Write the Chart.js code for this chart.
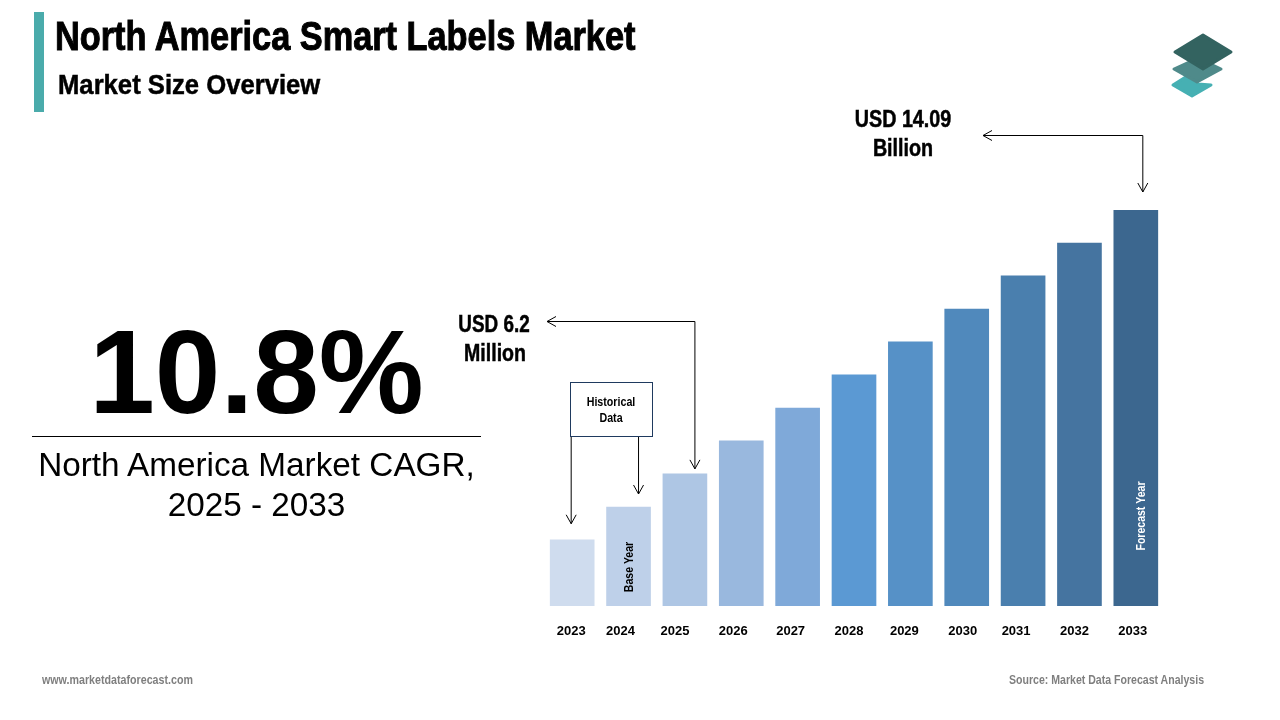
<!DOCTYPE html>
<html>
<head>
<meta charset="utf-8">
<title>North America Smart Labels Market</title>
<script src="https://cdn.jsdelivr.net/npm/chart.js@4"></script>
<style>
html, body { margin:0; padding:0; background:#fff; }
#page { position:relative; width:1280px; height:720px; overflow:hidden; font-family:"Liberation Sans",Arial,sans-serif; color:#000; }
#page canvas { position:absolute; left:0; top:0; }
.t { position:absolute; white-space:nowrap; }
.narrow { font-weight:700; transform-origin:left top; }
#accent { position:absolute; left:34px; top:12px; width:10px; height:100px; background:#4aabab; }
#title { left:55px; top:14px; font-size:40px; line-height:44px; -webkit-text-stroke:1px #000; transform:scaleX(0.858); }
#subtitle { left:58px; top:68px; font-size:28px; line-height:34px; -webkit-text-stroke:0.5px #000; transform:scaleX(0.916); }
#cagr { left:32px; width:449px; top:308px; text-align:center; font-size:118px; line-height:128px; font-weight:700; }
#rule { position:absolute; left:32px; width:449px; top:436px; height:1px; background:#000; }
#cagrText { left:32px; width:449px; top:445px; text-align:center; font-size:33.3px; line-height:40px; }
#site { left:42px; top:673px; font-size:12px; line-height:14px; color:#7f7f7f; transform:scaleX(0.89); }
#source { left:1009px; top:673px; font-size:12px; line-height:14px; color:#7f7f7f; transform:scaleX(0.88); }
#logo { position:absolute; left:1165px; top:28px; }
#logo polygon { stroke-width:3; stroke-linejoin:round; }
</style>
</head>
<body>
<div id="page">
<canvas id="chart" width="1280" height="720"></canvas>
<div id="accent"></div>
<div class="t narrow" id="title">North America Smart Labels Market</div>
<div class="t narrow" id="subtitle">Market Size Overview</div>
<div class="t" id="cagr">10.8%</div>
<div id="rule"></div>
<div class="t" id="cagrText">North America Market CAGR,<br>2025 - 2033</div>
<div class="t narrow" id="site">www.marketdataforecast.com</div>
<div class="t narrow" id="source">Source: Market Data Forecast Analysis</div>
<svg id="logo" width="75" height="75" viewBox="0 0 75 75">
  <polygon points="8,57 27,45 33,56 46,57 27,68" fill="#46b0b3" stroke="#46b0b3"/>
  <polygon points="33,30 56,41 32,54 9,41" fill="#4f8a8a" stroke="#4f8a8a"/>
  <polygon points="38,7 66,24 38,41 10,24" fill="#336360" stroke="#336360"/>
</svg>
</div>

<script>
// data
const years = ["2023","2024","2025","2026","2027","2028","2029","2030","2031","2032","2033"];
const marketSize = [4.23,5.21,6.2,7.19,8.17,9.16,10.15,11.13,12.12,13.1,14.09];
const barColors = ["#cfdcee","#bed0e9","#aec6e4","#99b8de","#7fa9d9","#5b99d3","#5691c7","#5089bc","#4a7fae","#4574a0","#3c678f"];

// the year labels sit a little left of their bars in the original
const labelNudge = [-1,-8,-10,-8,-7,-5,-6,-4,-7,-5,-3];

const font = (size) => 'bold ' + size + 'px "Liberation Sans",sans-serif';

function arrowHead(ctx, x, y, dir) {
  const s = 9, w = 5;
  ctx.beginPath();
  if (dir === 'down') {
    ctx.moveTo(x - w, y - s); ctx.lineTo(x, y); ctx.lineTo(x + w, y - s);
  } else {
    ctx.moveTo(x + s, y - w); ctx.lineTo(x, y); ctx.lineTo(x + s, y + w);
  }
  ctx.stroke();
}

function line(ctx, pts) {
  ctx.beginPath();
  pts.forEach((p, i) => i ? ctx.lineTo(p[0], p[1]) : ctx.moveTo(p[0], p[1]));
  ctx.stroke();
}

// centred text, squeezed sideways to look like the condensed face of the original
function narrowText(ctx, text, x, y, size, squeeze, heavy) {
  ctx.save();
  ctx.translate(x, y);
  ctx.scale(squeeze, 1);
  ctx.font = font(size);
  ctx.textAlign = 'center';
  ctx.textBaseline = 'middle';
  ctx.fillText(text, 0, 0);
  if (heavy) {
    ctx.strokeStyle = ctx.fillStyle;
    ctx.lineWidth = heavy;
    ctx.strokeText(text, 0, 0);
  }
  ctx.restore();
}

function vertText(ctx, text, x, y, color, size, squeeze) {
  ctx.save();
  ctx.translate(x, y);
  ctx.rotate(-Math.PI / 2);
  ctx.fillStyle = color;
  narrowText(ctx, text, 0, 0, size, squeeze);
  ctx.restore();
}

const nudgeLabels = {
  id: 'nudgeLabels',
  afterUpdate(chart) {
    const items = chart.scales.x.getLabelItems(chart.chartArea);
    items.forEach((it, i) => { it.options.translation[0] += labelNudge[i]; });
  }
};

const notes = {
  id: 'notes',
  afterDatasetsDraw(chart) {
    const ctx = chart.ctx;
    const xs = chart.scales.x, ys = chart.scales.y;
    const barX = (i) => xs.getPixelForTick(i);
    const barY = (i) => ys.getPixelForValue(marketSize[i]);

    ctx.save();
    ctx.strokeStyle = '#000';
    ctx.lineWidth = 1;
    ctx.fillStyle = '#000';

    // 2033 arrow
    const x33 = barX(10) + 7, tip33 = barY(10) - 18;
    line(ctx, [[983, 135.5], [x33, 135.5], [x33, tip33]]);
    arrowHead(ctx, 983, 135.5, 'left');
    arrowHead(ctx, x33, tip33, 'down');

    // 2025 arrow
    const x25 = barX(2) + 10, tip25 = barY(2) - 5;
    line(ctx, [[547, 321.5], [x25, 321.5], [x25, tip25]]);
    arrowHead(ctx, 547, 321.5, 'left');
    arrowHead(ctx, x25, tip25, 'down');

    // historical data box
    ctx.strokeStyle = '#1f3a5f';
    ctx.strokeRect(570.5, 382.5, 82, 54);
    ctx.strokeStyle = '#000';
    const x23 = barX(0) - 1, tip23 = barY(0) - 16;
    const x24 = barX(1) + 10, tip24 = barY(1) - 13;
    line(ctx, [[x23, 437], [x23, tip23]]);
    arrowHead(ctx, x23, tip23, 'down');
    line(ctx, [[x24, 437], [x24, tip24]]);
    arrowHead(ctx, x24, tip24, 'down');

    narrowText(ctx, 'Historical', 611, 403, 12, 0.89);
    narrowText(ctx, 'Data', 611, 419, 12, 0.89);

    narrowText(ctx, 'USD 14.09', 903, 121, 23, 0.857, 0.5);
    narrowText(ctx, 'Billion', 903, 150, 23, 0.857, 0.5);
    narrowText(ctx, 'USD 6.2', 494, 326, 23, 0.82, 0.5);
    narrowText(ctx, 'Million', 495, 355, 23, 0.85, 0.5);

    vertText(ctx, 'Base Year', barX(1) + 1, 567, '#000', 13, 0.81);
    vertText(ctx, 'Forecast Year', barX(10) + 6, 516, '#fff', 13, 0.81);
    ctx.restore();
  }
};

new Chart(document.getElementById('chart'), {
  type: 'bar',
  data: {
    labels: years,
    datasets: [{
      label: 'Market size',
      data: marketSize,
      backgroundColor: barColors,
      borderWidth: 0,
      barThickness: 44
    }]
  },
  options: {
    responsive: false,
    animation: false,
    devicePixelRatio: 1,
    layout: { padding: { left: 544, right: 116, top: 210, bottom: 0 } },
    plugins: { legend: { display: false }, tooltip: { enabled: false } },
    scales: {
      x: {
        grid: { display: false },
        border: { display: false },
        ticks: { color: '#000', font: { family: '"Liberation Sans",sans-serif', size: 13, weight: 'bold' }, padding: 10, maxRotation: 0, autoSkip: false },
        afterFit(scale) { scale.height = 114; }
      },
      y: { display: false, min: 2.25, max: 14.09 }
    }
  },
  plugins: [nudgeLabels, notes]
});
</script>
</body>
</html>
